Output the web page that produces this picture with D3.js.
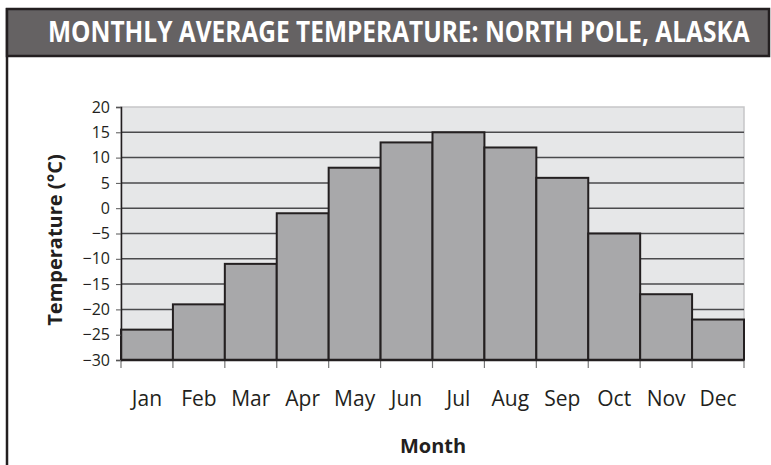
<!DOCTYPE html>
<html>

<head>
    <meta charset="utf-8">
    <title>Monthly average temperature</title>
    <script src="https://d3js.org/d3.v7.min.js" charset="utf-8"></script>
    <style>
        body { margin: 0; background: #fff; }
        svg { display: block; }
    </style>
</head>

<body>

    <div class="box"></div>

    <script type="text/javascript">
        var months = ["Jan", "Feb", "Mar", "Apr", "May", "Jun", "Jul", "Aug", "Sep", "Oct", "Nov", "Dec"];
        var temps = [-24, -19, -11, -1, 8, 13, 15, 12, 6, -5, -17, -22];
        var yTicks = [20, 15, 10, 5, 0, -5, -10, -15, -20, -25, -30];

        var width = 771;
        var height = 465;
        var plot = { left: 121, right: 744, top: 107, bottom: 360 };
        var ink = "#231f20";

        var x = d3.scaleBand()
            .domain(months)
            .range([plot.left, plot.right])
            .padding(0);
        var y = d3.scaleLinear()
            .domain([-30, 20])
            .range([plot.bottom, plot.top]);

        var svg = d3.select("div.box").append("svg")
            .attr("width", width)
            .attr("height", height);

        // page frame: left rule + title bar
        svg.append("line")
            .attr("x1", 7).attr("x2", 7)
            .attr("y1", 8).attr("y2", height)
            .attr("stroke", ink).attr("stroke-width", 2.5);
        svg.append("rect")
            .attr("x", 7).attr("y", 9)
            .attr("width", width - 9).attr("height", 47)
            .attr("fill", "#656263")
            .attr("stroke", ink).attr("stroke-width", 2.5);

        // condensed look: squeeze the bold title horizontally
        var title = svg.append("text")
            .attr("fill", "#fff")
            .style("font-family", "'Open Sans', sans-serif")
            .style("font-weight", 700)
            .style("font-size", "28px")
            .text("MONTHLY AVERAGE TEMPERATURE: NORTH POLE, ALASKA");
        var sx = 702 / title.node().getComputedTextLength();
        title.attr("transform", "translate(48,42) scale(" + sx + ",1)");

        // plot background
        svg.append("rect")
            .attr("x", plot.left).attr("y", plot.top)
            .attr("width", plot.right - plot.left)
            .attr("height", plot.bottom - plot.top)
            .attr("fill", "#e6e7e8")
            .attr("stroke", "#c6c6c8").attr("stroke-width", 1.5);

        // gridlines
        svg.append("g").selectAll("line")
            .data(yTicks.filter(function(d) { return d > -30 && d < 20; }))
            .enter().append("line")
            .attr("x1", plot.left).attr("x2", plot.right)
            .attr("y1", function(d) { return y(d); })
            .attr("y2", function(d) { return y(d); })
            .attr("stroke", "#4a4a4c").attr("stroke-width", 1.5);

        // bars from the bottom of the axis
        svg.append("g").selectAll("rect")
            .data(temps)
            .enter().append("rect")
            .attr("x", function(d, i) { return x(months[i]); })
            .attr("width", x.bandwidth())
            .attr("y", function(d) { return y(d); })
            .attr("height", function(d) { return y(-30) - y(d); })
            .attr("fill", "#a8a8aa")
            .attr("stroke", ink).attr("stroke-width", 2);

        // y axis
        var yAxis = d3.axisLeft(y)
            .tickValues(yTicks)
            .tickSize(5)
            .tickPadding(6);
        var gy = svg.append("g")
            .attr("transform", "translate(" + plot.left + ",0)")
            .call(yAxis);
        gy.select(".domain").attr("stroke", ink).attr("stroke-width", 1.5);
        gy.selectAll(".tick line").attr("stroke", "#555");
        gy.selectAll(".tick text")
            .attr("fill", ink)
            .style("font-family", "'Open Sans', sans-serif")
            .style("font-size", "16px");

        // x axis: ticks on month boundaries
        var bounds = months.map(function(m) { return x(m); }).concat([plot.right]);
        svg.append("g").selectAll("line")
            .data(bounds)
            .enter().append("line")
            .attr("x1", function(d) { return d; })
            .attr("x2", function(d) { return d; })
            .attr("y1", plot.bottom).attr("y2", plot.bottom + 8)
            .attr("stroke", "#777").attr("stroke-width", 1.2);
        svg.append("line")
            .attr("x1", plot.left).attr("x2", plot.right)
            .attr("y1", plot.bottom).attr("y2", plot.bottom)
            .attr("stroke", ink).attr("stroke-width", 2.5);
        svg.append("g").selectAll("text")
            .data(months)
            .enter().append("text")
            .attr("x", function(d) { return x(d) + x.bandwidth() / 2; })
            .attr("y", 406)
            .attr("text-anchor", "middle")
            .attr("fill", ink)
            .style("font-family", "'Open Sans', sans-serif")
            .style("font-size", "21px")
            .text(function(d) { return d; });

        // axis titles
        svg.append("text")
            .attr("x", 433).attr("y", 453)
            .attr("text-anchor", "middle")
            .attr("fill", ink)
            .style("font-family", "'Open Sans', sans-serif")
            .style("font-weight", 700)
            .style("font-size", "20px")
            .text("Month");
        svg.append("text")
            .attr("transform", "translate(62,240) rotate(-90)")
            .attr("text-anchor", "middle")
            .attr("fill", ink)
            .style("font-family", "'Open Sans', sans-serif")
            .style("font-weight", 700)
            .style("font-size", "20px")
            .text("Temperature (°C)");
    </script>

</body>

</html>
